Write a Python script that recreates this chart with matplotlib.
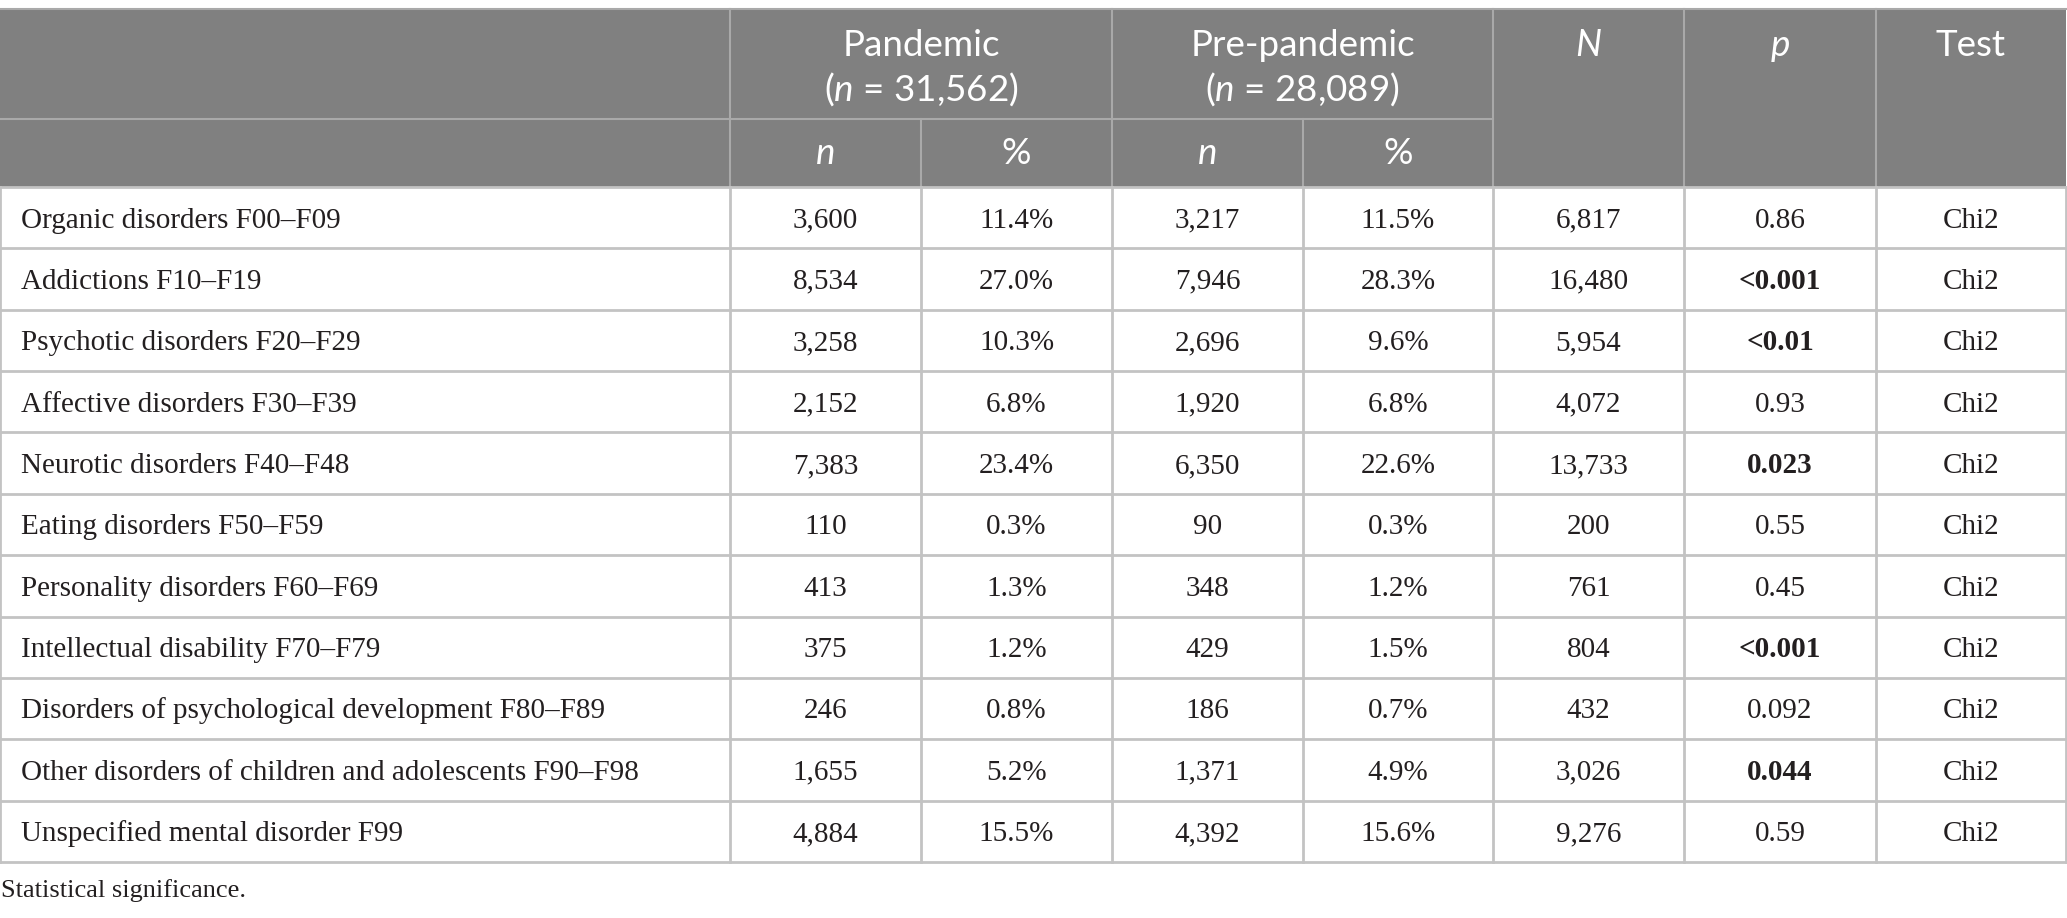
import matplotlib
matplotlib.use("Agg")
import matplotlib.pyplot as plt
from matplotlib.patches import Rectangle

plt.rcParams['mathtext.fontset'] = 'custom'
plt.rcParams['mathtext.it'] = 'Lato:italic'
plt.rcParams['mathtext.rm'] = 'Lato'

# ---------------- data ----------------
categories = ["Organic disorders F00–F09", "Addictions F10–F19", "Psychotic disorders F20–F29",
              "Affective disorders F30–F39", "Neurotic disorders F40–F48", "Eating disorders F50–F59",
              "Personality disorders F60–F69", "Intellectual disability F70–F79",
              "Disorders of psychological development F80–F89",
              "Other disorders of children and adolescents F90–F98",
              "Unspecified mental disorder F99"]
pandemic_n = [3600, 8534, 3258, 2152, 7383, 110, 413, 375, 246, 1655, 4884]
pandemic_pct = [11.4, 27.0, 10.3, 6.8, 23.4, 0.3, 1.3, 1.2, 0.8, 5.2, 15.5]
prepandemic_n = [3217, 7946, 2696, 1920, 6350, 90, 348, 429, 186, 1371, 4392]
prepandemic_pct = [11.5, 28.3, 9.6, 6.8, 22.6, 0.3, 1.2, 1.5, 0.7, 4.9, 15.6]
total_N = [6817, 16480, 5954, 4072, 13733, 200, 761, 804, 432, 3026, 9276]
p_values = ["0.86", "<0.001", "<0.01", "0.93", "0.023", "0.55", "0.45", "<0.001", "0.092", "0.044", "0.59"]
significant = [False, True, True, False, True, False, False, True, False, True, False]
tests = ["Chi2"] * 11
group_headers = ["Pandemic", "Pre-pandemic"]
group_sizes = ["31,562", "28,089"]
footnote = "Statistical significance."

# ---------------- layout ----------------
W, H = 2067, 918
fig = plt.figure(figsize=(W / 100, H / 100), dpi=100)
ax = fig.add_axes([0, 0, 1, 1])
ax.set_xlim(0, W)
ax.set_ylim(H, 0)
ax.axis('off')

col_edges = [0, 730, 921, 1112, 1303, 1493, 1684, 1876, 2066]
top = 9
h1 = 119
h2 = 187
row_h = (862 - h2) / len(categories)

HEAD_BG = '#808080'
HEAD_LINE = '#a9a9a9'
GRID = '#c3c3c3'
TXT = '#231f20'
SERIF = 'Liberation Serif'
SANS = 'Lato'
BODY_FS = 21
HEAD_FS = 26.5

# header background
ax.add_patch(Rectangle((col_edges[0], top), col_edges[-1] - col_edges[0], h2 - top,
                       facecolor=HEAD_BG, edgecolor='none', zorder=1))
# header lines
ax.plot([col_edges[0], col_edges[-1]], [top, top], color=HEAD_LINE, lw=1.5, zorder=2)
ax.plot([col_edges[0], col_edges[5]], [h1, h1], color=HEAD_LINE, lw=1.5, zorder=2)
for i in [1, 3, 5, 6, 7]:
    ax.plot([col_edges[i], col_edges[i]], [top, h2], color=HEAD_LINE, lw=1.5, zorder=2)
for i in [2, 4]:
    ax.plot([col_edges[i], col_edges[i]], [h1, h2], color=HEAD_LINE, lw=1.5, zorder=2)

# header text
y_l1, y_l2 = 45, 89
for g, (name, size) in enumerate(zip(group_headers, group_sizes)):
    cx = (col_edges[1 + 2 * g] + col_edges[3 + 2 * g]) / 2
    ax.text(cx, y_l1, name, ha='center', va='center', color='white', fontsize=HEAD_FS, family=SANS)
    ax.text(cx, y_l2, "($n$ = " + size + ")", ha='center', va='center', color='white',
            fontsize=HEAD_FS, family=SANS)
    for k, lab in enumerate(["n", "%"]):
        x = (col_edges[1 + 2 * g + k] + col_edges[2 + 2 * g + k]) / 2
        ax.text(x, (h1 + h2) / 2, lab, ha='center', va='center', color='white', fontsize=HEAD_FS,
                family=SANS, style='italic' if lab == 'n' else 'normal')
for i, (lab, st) in enumerate([("N", 'italic'), ("p", 'italic'), ("Test", 'normal')]):
    x = (col_edges[5 + i] + col_edges[6 + i]) / 2
    ax.text(x, y_l1, lab, ha='center', va='center', color='white', fontsize=HEAD_FS,
            family=SANS, style=st)

# body grid
for r in range(len(categories) + 1):
    y = h2 + r * row_h
    ax.plot([col_edges[0], col_edges[-1]], [y, y], color=GRID, lw=2, zorder=2)
for x in col_edges:
    ax.plot([x, x], [h2, h2 + len(categories) * row_h], color=GRID, lw=2, zorder=2)

# body text
for r, cat in enumerate(categories):
    yb = h2 + r * row_h + 40.5
    ax.text(21, yb, cat, ha='left', va='baseline', color=TXT, fontsize=BODY_FS, family=SERIF)
    cells = [f"{pandemic_n[r]:,}", f"{pandemic_pct[r]:.1f}%", f"{prepandemic_n[r]:,}",
             f"{prepandemic_pct[r]:.1f}%", f"{total_N[r]:,}", p_values[r], tests[r]]
    for c, txt in enumerate(cells):
        x = (col_edges[1 + c] + col_edges[2 + c]) / 2
        bold = (c == 5 and significant[r])
        ax.text(x, yb, txt, ha='center', va='baseline', color=TXT, fontsize=BODY_FS,
                family=SERIF, weight='bold' if bold else 'normal')

ax.text(1, 897, footnote, ha='left', va='baseline', color=TXT, fontsize=19, family=SERIF)

fig.savefig("out.png", dpi=100, facecolor='white')
